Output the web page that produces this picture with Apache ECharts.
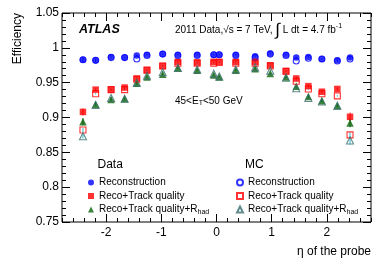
<!DOCTYPE html>
<html>
<head>
<meta charset="utf-8">
<script src="https://cdn.jsdelivr.net/npm/echarts@6/dist/echarts.min.js"></script>
<style>
html,body{margin:0;padding:0;background:#fff;}
#chart{width:390px;height:265px;}
</style>
</head>
<body>
<div id="chart"></div>
<script>
// ---- data ----
var eta = [-2.42,-2.19,-1.91,-1.665,-1.445,-1.26,-0.975,-0.7,-0.35,-0.05,0.05,0.35,0.7,0.975,1.26,1.445,1.665,1.91,2.19,2.42];
var dataReco  = [0.983,0.982,0.987,0.986,0.989,0.990,0.991,0.990,0.990,0.990,0.990,0.990,0.988,0.992,0.990,0.986,0.987,0.984,0.982,0.986];
var mcReco    = [0.983,0.982,0.986,0.986,0.984,0.989,0.991,0.989,0.989,0.990,0.990,0.989,0.986,0.991,0.989,0.981,0.985,0.984,0.981,0.984];
var dataTrack = [0.908,0.940,0.940,0.943,0.956,0.968,0.974,0.980,0.979,0.980,0.980,0.980,0.980,0.975,0.967,0.956,0.945,0.937,0.941,0.901];
var mcTrack   = [0.882,0.934,0.940,0.940,0.955,0.968,0.974,0.978,0.978,0.978,0.979,0.978,0.978,0.974,0.966,0.952,0.941,0.934,0.931,0.875];
var dataRhad  = [0.894,0.919,0.926,0.927,0.949,0.958,0.962,0.971,0.968,0.961,0.958,0.968,0.970,0.963,0.958,0.945,0.930,0.924,0.917,0.892];
var mcRhad    = [0.873,0.918,0.928,0.927,0.950,0.960,0.965,0.971,0.969,0.963,0.959,0.969,0.972,0.967,0.957,0.942,0.928,0.923,0.917,0.867];
var dataRecoErr  = [0.003,0.002,0.001,0.001,0.001,0.001,0.001,0.001,0.001,0.001,0.001,0.001,0.001,0.001,0.001,0.001,0.001,0.001,0.002,0.003];
var dataTrackErr = [0.005,0.002,0.002,0.002,0.002,0.001,0.001,0.001,0.001,0.001,0.001,0.001,0.001,0.001,0.001,0.002,0.002,0.002,0.002,0.006];
var dataRhadErr  = [0.005,0.002,0.002,0.002,0.002,0.001,0.001,0.001,0.001,0.001,0.001,0.001,0.001,0.001,0.001,0.002,0.002,0.002,0.002,0.006];
var mcTrackErr   = [0.003,0.001,0.001,0.001,0.001,0.001,0.001,0.001,0.001,0.001,0.001,0.001,0.001,0.001,0.001,0.001,0.001,0.001,0.001,0.004];
var mcRhadErr    = [0.003,0.001,0.001,0.001,0.001,0.001,0.001,0.001,0.001,0.001,0.001,0.001,0.001,0.001,0.001,0.001,0.001,0.001,0.001,0.006];
var xMajorTicks = [-2,-1,0,1,2];
var yTickLabels = ['0.75','0.8','0.85','0.9','0.95','1','1.05'];
var seriesNames = ['Reconstruction','Reco+Track quality','Reco+Track quality+R_had'];

// ---- helpers ----
var FONT = 'Liberation Sans, Arial, Helvetica, sans-serif';
var BLUE = '#0000ff', RED = '#ff0000', GREEN = '#0b640b', TEAL = '#3b6f6f', CYAN = '#33bbcc';
function pairs(ys){ return eta.map(function(x,i){ return [x, ys[i]]; }); }
function errData(ys, es){ return eta.map(function(x,i){ return [x, ys[i]-es[i], ys[i]+es[i]]; }); }
function errSeries(ys, es, color){
  return {
    type:'custom', silent:true, z:1,
    data: errData(ys, es),
    renderItem: function(params, api){
      var p1 = api.coord([api.value(0), api.value(1)]);
      var p2 = api.coord([api.value(0), api.value(2)]);
      return {type:'line', shape:{x1:p1[0],y1:p1[1],x2:p2[0],y2:p2[1]}, style:{stroke:color, lineWidth:1}};
    }
  };
}
var minorX = [];
for (var k = -14; k <= 14; k++) { if (k % 5 !== 0) minorX.push(k/5); }

function xAx(pos, vals, len, labels){
  return {
    type:'value', position:pos, min:-2.8, max:2.8, gridIndex:0,
    axisLine:{show:false, onZero:false},
    splitLine:{show:false},
    axisTick:{show:true, inside:true, length:len, customValues:vals, lineStyle:{color:'#000', width:1}},
    axisLabel:{show:labels, customValues:vals, color:'#000', fontSize:12, fontFamily:FONT, margin:5,
      formatter:function(v){ return String(Math.round(v)); }}
  };
}
function yAx(pos, labels){
  return {
    type:'value', position:pos, min:0.75, max:1.05, interval:0.05,
    axisLine:{show:false, onZero:false}, splitLine:{show:false},
    axisTick:{show:true, inside:true, length:8, lineStyle:{color:'#000'}},
    minorTick:{show:true, splitNumber:5, length:4, lineStyle:{color:'#000'}},
    axisLabel:{show:labels, color:'#000', fontSize:12, fontFamily:FONT, margin:3,
      formatter:function(v){ var i = Math.round((v-0.75)/0.05); return yTickLabels[i]; }}
  };
}
function legendFmt(prefix){
  return function(name){
    var n = name.replace(prefix,'');
    return n.replace('+R_had', '+R{sub|had}');
  };
}
var richSub = {sub:{fontSize:7, lineHeight:7, verticalAlign:'bottom', fontFamily:FONT, color:'#000', padding:[5,0,0,0]}};

var chart = echarts.init(document.getElementById('chart'), null, {renderer:'canvas'});
var option = {
  animation:false,
  backgroundColor:'#fff',
  textStyle:{fontFamily:FONT},
  grid:{left:62, top:13, width:309, height:209, show:true, borderColor:'#000', borderWidth:1, backgroundColor:'transparent'},
  xAxis:[ xAx('bottom', xMajorTicks, 8, true), xAx('bottom', minorX, 4, false),
          xAx('top', xMajorTicks, 8, false), xAx('top', minorX, 4, false) ],
  yAxis:[ yAx('left', true), yAx('right', false) ],
  legend:[
    {left:88, top:176.5, padding:0, orient:'vertical', itemWidth:6, itemHeight:6, itemGap:1.5,
     data:['Data: '+seriesNames[0],'Data: '+seriesNames[1],'Data: '+seriesNames[2]],
     formatter:legendFmt('Data: '), selectedMode:false,
     textStyle:{fontSize:10, fontFamily:FONT, color:'#000', lineHeight:12, rich:richSub}},
    {left:236, top:176.5, padding:0, orient:'vertical', itemWidth:6, itemHeight:6, itemGap:1.5,
     data:['MC: '+seriesNames[0],'MC: '+seriesNames[1],'MC: '+seriesNames[2]],
     formatter:legendFmt('MC: '), selectedMode:false,
     textStyle:{fontSize:10, fontFamily:FONT, color:'#000', lineHeight:12, rich:richSub}}
  ],
  series:[
    errSeries(dataReco, dataRecoErr, BLUE),
    errSeries(dataTrack, dataTrackErr, RED),
    errSeries(dataRhad, dataRhadErr, GREEN),
    errSeries(mcTrack, mcTrackErr, CYAN),
    errSeries(mcRhad, mcRhadErr, CYAN),
    {name:'Data: '+seriesNames[0], type:'scatter', z:3, symbol:'circle', symbolSize:6.5, data:pairs(dataReco), itemStyle:{color:BLUE}},
    {name:'Data: '+seriesNames[1], type:'scatter', z:3, symbol:'rect', symbolSize:6.5, data:pairs(dataTrack), itemStyle:{color:RED}},
    {name:'Data: '+seriesNames[2], type:'scatter', z:3, symbol:'triangle', symbolSize:7.5, data:pairs(dataRhad), itemStyle:{color:GREEN}},
    {name:'MC: '+seriesNames[0], type:'scatter', z:4, symbol:'circle', symbolSize:6, data:pairs(mcReco), itemStyle:{color:'rgba(255,255,255,0)', borderColor:BLUE, borderWidth:1.1}},
    {name:'MC: '+seriesNames[1], type:'scatter', z:4, symbol:'rect', symbolSize:6, data:pairs(mcTrack), itemStyle:{color:'rgba(255,255,255,0)', borderColor:RED, borderWidth:1.1}},
    {name:'MC: '+seriesNames[2], type:'scatter', z:4, symbol:'triangle', symbolSize:7, data:pairs(mcRhad), itemStyle:{color:'rgba(255,255,255,0)', borderColor:TEAL, borderWidth:1.1}}
  ],
  graphic:[
    {type:'text', left:79, top:23, style:{text:'ATLAS', font:'italic bold 12.5px '+FONT, fill:'#000'}},
    {type:'text', left:175, top:21, style:{
      text:'2011 Data,√s = 7 TeV, {int|∫} L dt = 4.7 fb{sup|-1}',
      font:'10px '+FONT, fill:'#000', lineHeight:18,
      rich:{int:{fontSize:17, fontFamily:FONT, lineHeight:18}, sup:{fontSize:7, verticalAlign:'top', lineHeight:7, padding:[2,0,0,0]}}
    }},
    {type:'text', left:175, top:95, style:{
      text:'45<E{sub|T}<50 GeV', font:'10px '+FONT, fill:'#000', lineHeight:12,
      rich:{sub:{fontSize:7, lineHeight:7, verticalAlign:'bottom', padding:[5,0,0,0]}}
    }},
    {type:'text', left:97.5, top:159, style:{text:'Data', font:'12px '+FONT, fill:'#000'}},
    {type:'text', left:245, top:159, style:{text:'MC', font:'12px '+FONT, fill:'#000'}},
    {type:'text', x:18, y:13, rotation:Math.PI/2, style:{text:'Efficiency', font:'12px '+FONT, fill:'#000', textAlign:'right', textVerticalAlign:'middle'}},
    {type:'text', right:19, top:246, style:{text:'η of the probe', font:'12px '+FONT, fill:'#000'}}
  ]
};
chart.setOption(option);
</script>
</body>
</html>
